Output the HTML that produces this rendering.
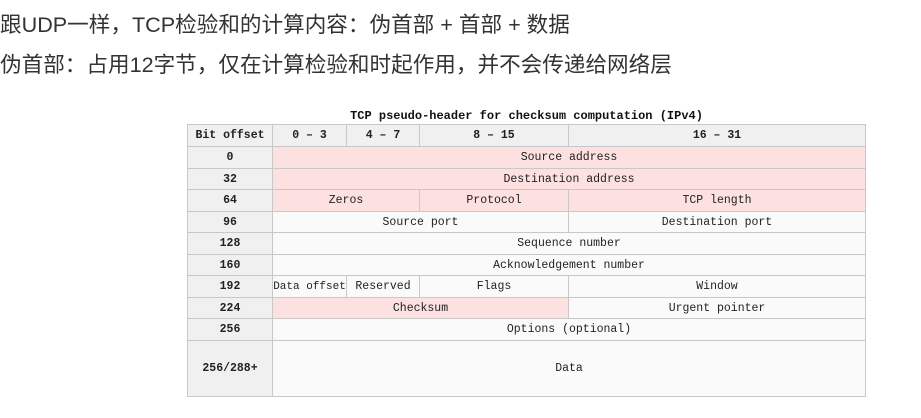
<!DOCTYPE html>
<html><head><meta charset="utf-8"><style>
body{margin:0;width:921px;height:418px;background:#fff;position:relative;overflow:hidden}
.t{position:absolute;left:0px;font:21.6px "Liberation Sans","Noto Sans CJK SC",sans-serif;color:#333;white-space:nowrap}
.c{position:absolute;box-sizing:border-box;border:1px solid #c8c8c8;display:flex;align-items:center;justify-content:center;font:11.5px "Liberation Mono","Noto Sans CJK SC",monospace;color:#222;background:#fafafa;margin:0;white-space:nowrap}
.h{background:#f0f0f0;font-weight:bold}
.p{background:#fde0e0}
.cap{position:absolute;left:187px;width:679px;top:109px;text-align:center;font:bold 12px "Liberation Mono",monospace;color:#111}
</style></head><body>
<div class="t" style="top:8px">跟UDP一样，TCP检验和的计算内容：伪首部 + 首部 + 数据</div>
<div class="t" style="top:48px">伪首部：占用12字节，仅在计算检验和时起作用，并不会传递给网络层</div>
<div class="cap">TCP pseudo-header for checksum computation (IPv4)</div>

<div class="c h" style="left:187px;top:124px;width:86px;height:23px">Bit offset</div>
<div class="c h" style="left:272px;top:124px;width:75px;height:23px">0 – 3</div>
<div class="c h" style="left:346px;top:124px;width:74px;height:23px">4 – 7</div>
<div class="c h" style="left:419px;top:124px;width:150px;height:23px">8 – 15</div>
<div class="c h" style="left:568px;top:124px;width:298px;height:23px">16 – 31</div>

<div class="c h" style="left:187px;top:146px;width:86px;height:23px">0</div>
<div class="c p" style="left:272px;top:146px;width:594px;height:23px">Source address</div>

<div class="c h" style="left:187px;top:168px;width:86px;height:22px">32</div>
<div class="c p" style="left:272px;top:168px;width:594px;height:22px">Destination address</div>

<div class="c h" style="left:187px;top:189px;width:86px;height:23px">64</div>
<div class="c p" style="left:272px;top:189px;width:148px;height:23px">Zeros</div>
<div class="c p" style="left:419px;top:189px;width:150px;height:23px">Protocol</div>
<div class="c p" style="left:568px;top:189px;width:298px;height:23px">TCP length</div>

<div class="c h" style="left:187px;top:211px;width:86px;height:22px">96</div>
<div class="c" style="left:272px;top:211px;width:297px;height:22px">Source port</div>
<div class="c" style="left:568px;top:211px;width:298px;height:22px">Destination port</div>

<div class="c h" style="left:187px;top:232px;width:86px;height:23px">128</div>
<div class="c" style="left:272px;top:232px;width:594px;height:23px">Sequence number</div>

<div class="c h" style="left:187px;top:254px;width:86px;height:22px">160</div>
<div class="c" style="left:272px;top:254px;width:594px;height:22px">Acknowledgement number</div>

<div class="c h" style="left:187px;top:275px;width:86px;height:23px">192</div>
<div class="c" style="left:272px;top:275px;width:75px;height:23px;font-size:11px;overflow:hidden">Data offset</div>
<div class="c" style="left:346px;top:275px;width:74px;height:23px">Reserved</div>
<div class="c" style="left:419px;top:275px;width:150px;height:23px">Flags</div>
<div class="c" style="left:568px;top:275px;width:298px;height:23px">Window</div>

<div class="c h" style="left:187px;top:297px;width:86px;height:22px">224</div>
<div class="c p" style="left:272px;top:297px;width:297px;height:22px">Checksum</div>
<div class="c" style="left:568px;top:297px;width:298px;height:22px">Urgent pointer</div>

<div class="c h" style="left:187px;top:318px;width:86px;height:23px">256</div>
<div class="c" style="left:272px;top:318px;width:594px;height:23px">Options (optional)</div>

<div class="c h" style="left:187px;top:340px;width:86px;height:57px">256/288+</div>
<div class="c" style="left:272px;top:340px;width:594px;height:57px">Data</div>
</body></html>
